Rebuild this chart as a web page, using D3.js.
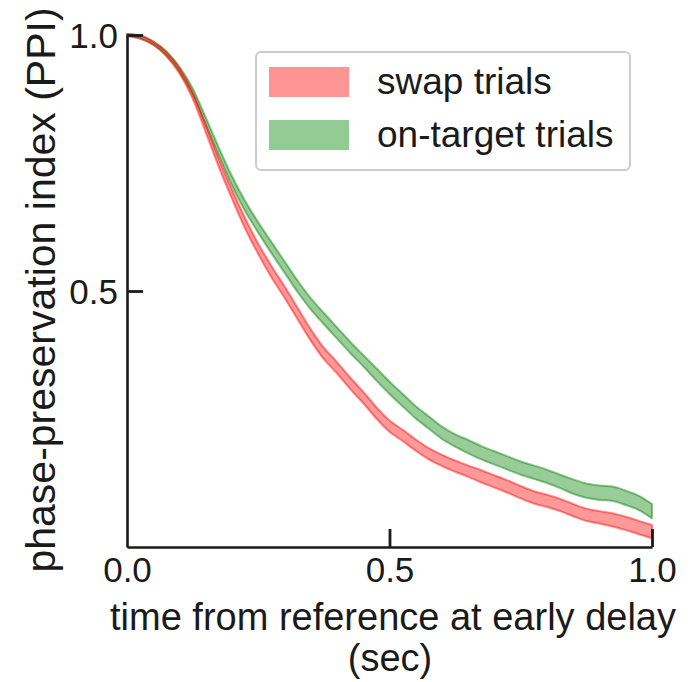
<!DOCTYPE html>
<html>
<head>
<meta charset="utf-8">
<script src="https://cdn.jsdelivr.net/npm/d3@7"></script>
<style>
  html, body { margin: 0; padding: 0; background: #fff; }
  svg { display: block; font-family: "Liberation Sans", Arial, Helvetica, sans-serif; }
</style>
</head>
<body>
<svg id="chart" width="699" height="682"></svg>
<script>
// time from reference (sec)
const timeSec = [0, 0.025, 0.05, 0.075, 0.1, 0.125, 0.15, 0.175, 0.2, 0.225,
  0.25, 0.275, 0.3, 0.325, 0.35, 0.375, 0.4, 0.425, 0.45, 0.475,
  0.5, 0.525, 0.55, 0.575, 0.6, 0.625, 0.65, 0.675, 0.7, 0.725,
  0.75, 0.775, 0.8, 0.825, 0.85, 0.875, 0.9, 0.925, 0.95, 0.975, 1.0];

// mean phase-preservation index, swap trials
const swapMean = [1.000, 0.996, 0.984, 0.963, 0.930, 0.882, 0.817, 0.750, 0.689, 0.632,
  0.582, 0.538, 0.498, 0.456, 0.414, 0.378, 0.350, 0.320, 0.292, 0.262,
  0.236, 0.218, 0.199, 0.182, 0.169, 0.158, 0.148, 0.138, 0.128, 0.118,
  0.107, 0.097, 0.090, 0.082, 0.072, 0.063, 0.058, 0.053, 0.046, 0.038, 0.030];
// standard error, swap trials
const swapSem = [0.002, 0.003, 0.003, 0.004, 0.005, 0.006, 0.007, 0.008, 0.009, 0.010,
  0.010, 0.011, 0.011, 0.011, 0.011, 0.011, 0.011, 0.011, 0.011, 0.011,
  0.011, 0.011, 0.011, 0.011, 0.011, 0.011, 0.011, 0.012, 0.012, 0.012,
  0.012, 0.012, 0.012, 0.012, 0.012, 0.012, 0.012, 0.013, 0.013, 0.013, 0.013];

// mean phase-preservation index, on-target trials
const targetMean = [1.000, 0.996, 0.984, 0.964, 0.933, 0.890, 0.832, 0.772, 0.715, 0.666,
  0.624, 0.585, 0.547, 0.509, 0.475, 0.446, 0.418, 0.390, 0.364, 0.337,
  0.311, 0.287, 0.263, 0.243, 0.223, 0.208, 0.196, 0.184, 0.174, 0.164,
  0.154, 0.146, 0.138, 0.128, 0.118, 0.110, 0.106, 0.104, 0.096, 0.086, 0.070];
// standard error, on-target trials
const targetSem = [0.002, 0.003, 0.003, 0.004, 0.005, 0.006, 0.007, 0.008, 0.009, 0.010,
  0.010, 0.011, 0.011, 0.011, 0.011, 0.011, 0.011, 0.011, 0.011, 0.012,
  0.012, 0.012, 0.012, 0.012, 0.012, 0.012, 0.013, 0.013, 0.013, 0.013,
  0.013, 0.013, 0.013, 0.013, 0.014, 0.014, 0.014, 0.014, 0.014, 0.014, 0.014];

const xTicks = [0, 0.5, 1.0];
const yTicks = [0.5, 1.0];
const seriesNames = ["swap trials", "on-target trials"];
const seriesColors = ["red", "green"];

const svg = d3.select("#chart");
const ink = "#1a1a1a";

const x = d3.scaleLinear().domain([0, 1]).range([127, 652]);
const y = d3.scaleLinear().domain([0, 1]).range([547, 35]);

// shaded mean ± sem bands
const bands = [
  { mean: targetMean, sem: targetSem, color: seriesColors[1] },
  { mean: swapMean, sem: swapSem, color: seriesColors[0] }
];
const area = d3.area()
  .x((d) => x(d.t))
  .y0((d) => y(d.lo))
  .y1((d) => y(d.hi))
  .curve(d3.curveMonotoneX);

bands.forEach((b) => {
  const pts = timeSec.map((t, i) => ({ t, lo: b.mean[i] - b.sem[i], hi: b.mean[i] + b.sem[i] }));
  svg.append("path")
    .datum(pts)
    .attr("d", area)
    .attr("fill", b.color)
    .attr("fill-opacity", 0.4)
    .attr("stroke", b.color)
    .attr("stroke-opacity", 0.45)
    .attr("stroke-width", 2)
    .attr("stroke-linejoin", "round");
});

// axes with inward ticks
const xAxis = d3.axisBottom(x).tickValues(xTicks).tickFormat(d3.format(".1f"))
  .tickSizeInner(-18).tickSizeOuter(0).tickPadding(17);
const yAxis = d3.axisLeft(y).tickValues(yTicks).tickFormat(d3.format(".1f"))
  .tickSizeInner(-16).tickSizeOuter(0).tickPadding(9);

const gx = svg.append("g").attr("transform", "translate(0,547)").call(xAxis);
const gy = svg.append("g").attr("transform", "translate(127,0)").call(yAxis);

[gx, gy].forEach((g) => {
  g.select(".domain").attr("stroke", ink).attr("stroke-width", 2.6);
  g.selectAll(".tick line").attr("stroke", ink).attr("stroke-width", 2.8);
  g.selectAll(".tick text").attr("fill", ink).attr("font-size", 35)
    .attr("font-family", "'Liberation Sans', Arial, sans-serif");
});
gx.selectAll(".tick").filter((d) => d === 0).select("line").remove();
gx.selectAll(".tick text").attr("dy", "0.5em");
gy.selectAll(".tick text").attr("dy", "0.36em");

// axis titles
svg.append("text")
  .attr("x", 393).attr("y", 630)
  .attr("text-anchor", "middle")
  .attr("font-size", 38).attr("fill", ink)
  .text("time from reference at early delay");
svg.append("text")
  .attr("x", 390).attr("y", 671)
  .attr("text-anchor", "middle")
  .attr("font-size", 38).attr("fill", ink)
  .text("(sec)");
svg.append("text")
  .attr("transform", "translate(55,290) rotate(-90)")
  .attr("text-anchor", "middle")
  .attr("font-size", 41).attr("fill", ink)
  .text("phase-preservation index (PPI)");

// legend
const legend = svg.append("g");
legend.append("rect")
  .attr("x", 256).attr("y", 52).attr("width", 374).attr("height", 118)
  .attr("rx", 5).attr("fill", "#fff")
  .attr("stroke", "#cccccc").attr("stroke-width", 2);
seriesNames.forEach((name, i) => {
  const cy = 82 + i * 53;
  legend.append("rect")
    .attr("x", 269).attr("y", cy - 15).attr("width", 80).attr("height", 30)
    .attr("fill", seriesColors[i]).attr("fill-opacity", 0.42);
  legend.append("text")
    .attr("x", 377).attr("y", cy + 12)
    .attr("font-size", 37).attr("fill", ink)
    .text(name);
});
</script>
</body>
</html>
